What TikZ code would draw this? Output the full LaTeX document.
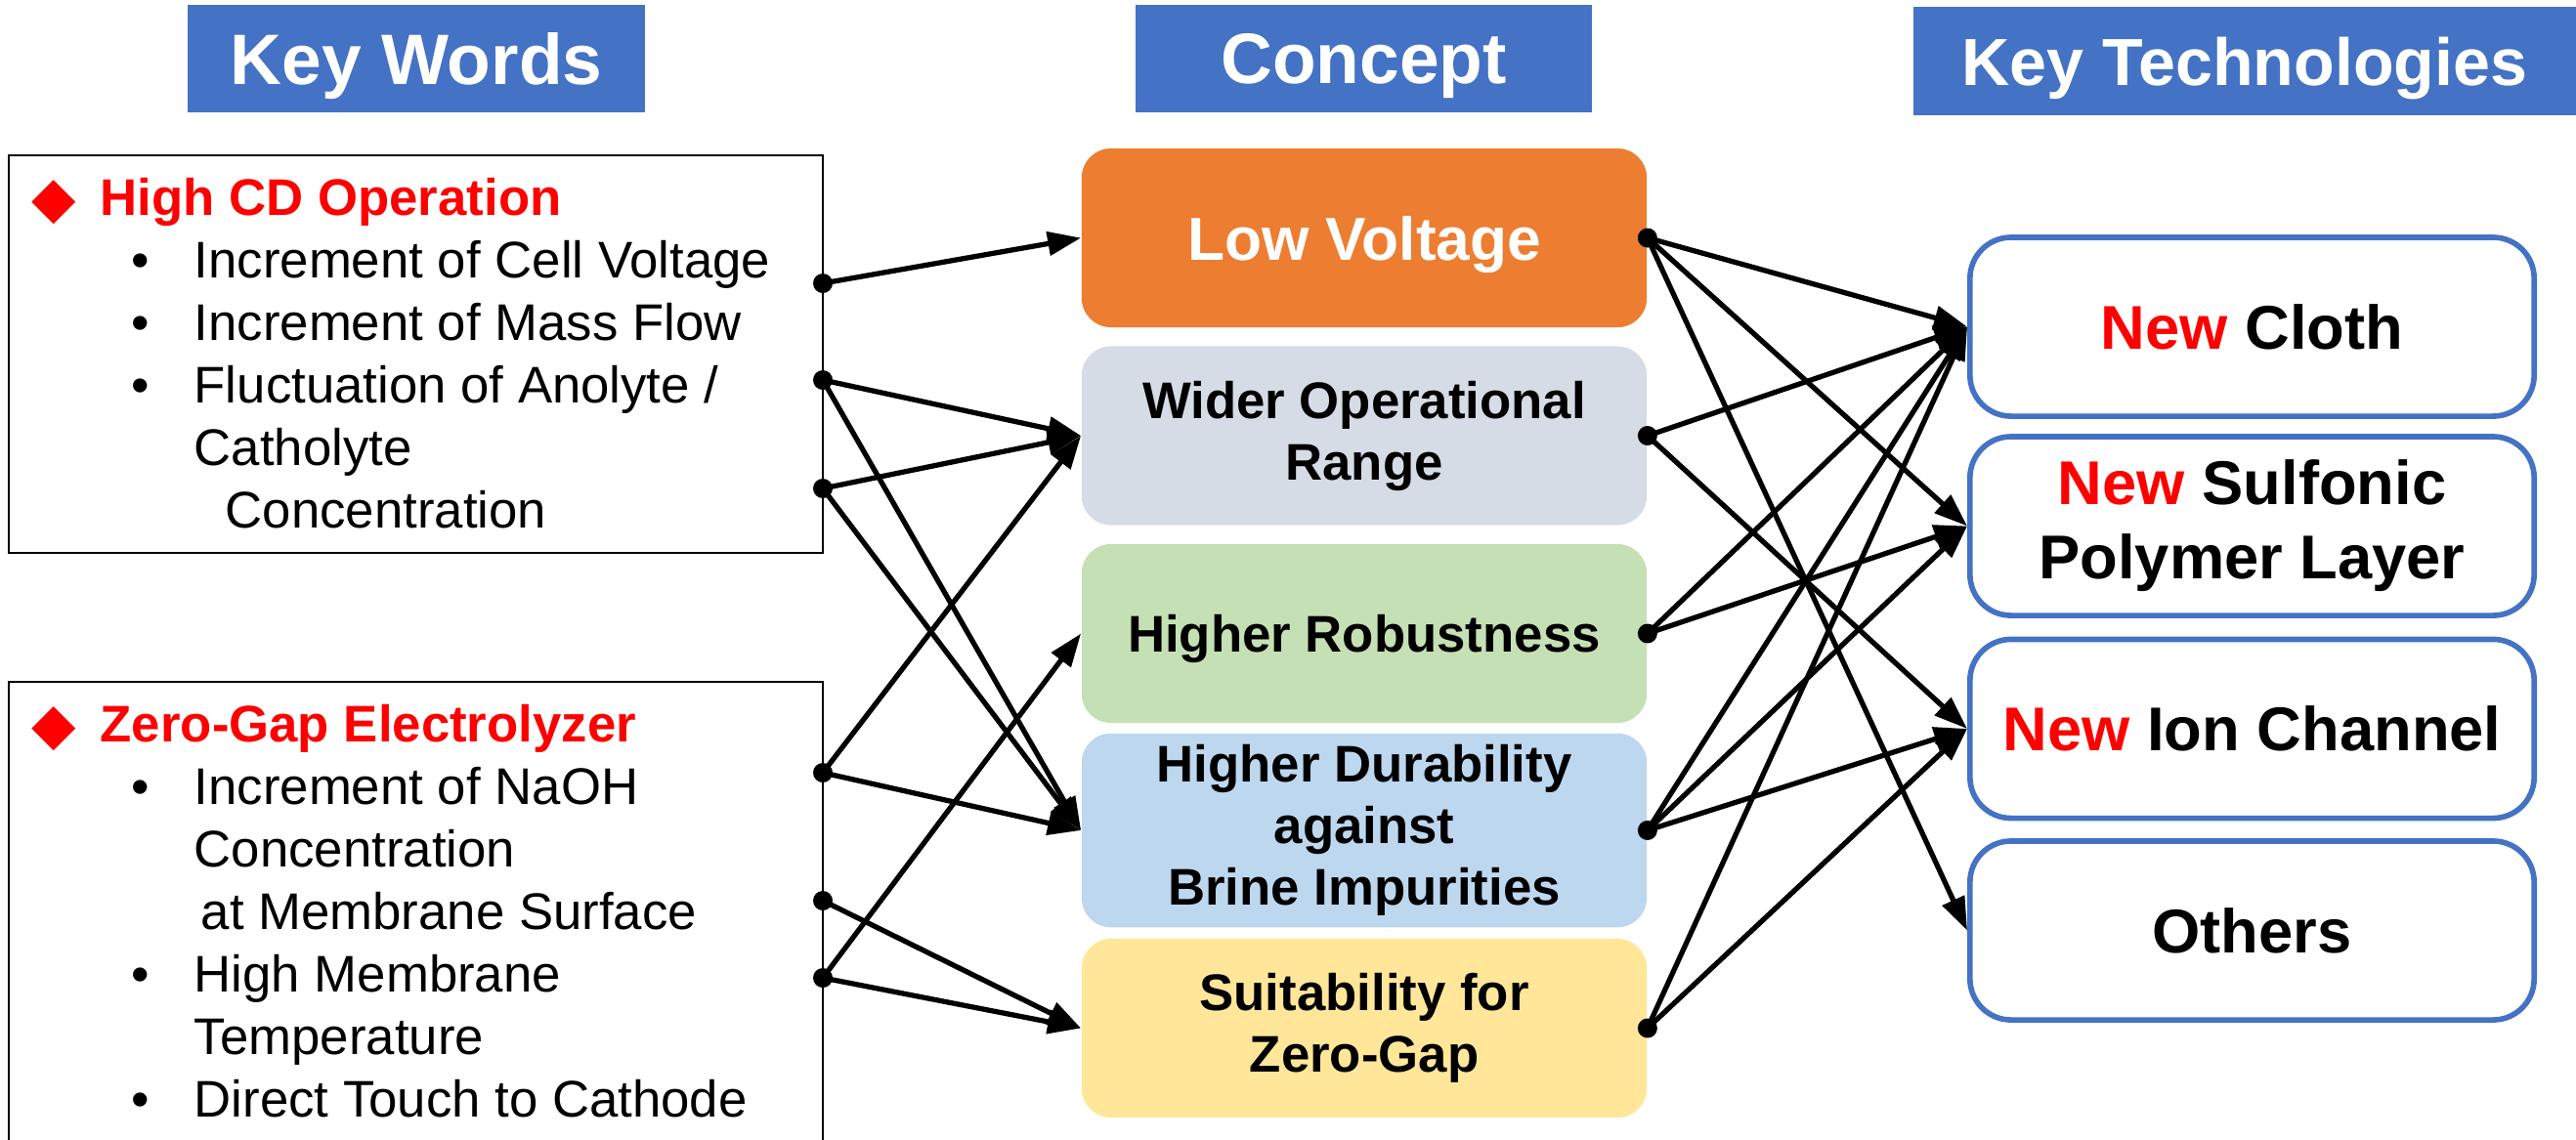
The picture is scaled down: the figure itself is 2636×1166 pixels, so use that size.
\documentclass[tikz,border=0pt]{standalone}
\usepackage{fontspec}
\setmainfont{Liberation Sans}
\newfontfamily\symfont{DejaVu Sans}
\usetikzlibrary{arrows.meta}
\definecolor{hdblue}{HTML}{4472C4}
\definecolor{lvorange}{HTML}{ED7D31}
\definecolor{wogrey}{HTML}{D6DCE5}
\definecolor{hrgreen}{HTML}{C5E0B4}
\definecolor{dulblue}{HTML}{BDD7EE}
\definecolor{zgyellow}{HTML}{FFE699}
\newcommand{\kwdiam}{\makebox[0.70cm][l]{\raisebox{-0.02cm}{\scalebox{1.12}{\textcolor{red}{\symfont ◆}}}}}
\newcommand{\kwitem}{\hspace*{1.02cm}\makebox[0.64cm][l]{\textbullet}}
\newcommand{\newword}{\textcolor{red}{New}}

\begin{document}
\begin{tikzpicture}[
	x=0.01cm, y=-0.01cm,
	header/.style = {
		fill=hdblue, text=white,
		minimum width=4.68cm,
		minimum height=1.10cm,
		text depth=0pt,
		font=\bfseries\fontsize{20.8}{24}\selectfont,
	},
	kwbox/.style = {draw, line width=0.5pt, minimum width=8.33cm, inner sep=0pt},
	kwtext/.style = {anchor=base west, inner sep=0pt, font=\fontsize{15}{18.2}\selectfont},
	concept/.style = {
		rounded corners=0.3cm,
		minimum width=5.78cm,
		minimum height=1.83cm,
		align=center,
		font=\bfseries\fontsize{15}{17.9}\selectfont,
	},
	tech/.style = {
		draw=hdblue, line width=1.6pt,
		rounded corners=0.42cm,
		minimum width=5.77cm,
		minimum height=1.83cm,
		align=center,
		font=\bfseries\fontsize{18}{21.6}\selectfont,
	},
	link/.style = {line width=1.5pt, -{Triangle[length=0.34cm,width=0.24cm]}},
]
\useasboundingbox (0,0) rectangle (2636,1166);
\clip (0,0) rectangle (2636,1166);

% Headers
\node [header] (kw) at (426,60) {Key Words};
\node [header, minimum width=4.67cm] (cpt) at (1395.5,60) {Concept};
\node [header, minimum width=6.78cm, font=\bfseries\fontsize{19.4}{23}\selectfont] (kt) at (2297,62.5) {Key Technologies};

% Key word boxes
\node [kwbox, minimum height=4.07cm] (hcd) at (425.5,362.5) {};
\node [kwtext] (hcdtxt) at (32,220) {\parbox[t]{8cm}{\raggedright
	\kwdiam\textcolor{red}{\bfseries High CD Operation}\\
	\kwitem Increment of Cell Voltage\\
	\kwitem Increment of Mass Flow\\
	\kwitem Fluctuation of Anolyte /\\
	\hspace*{1.66cm}Catholyte\\
	\hspace*{1.98cm}Concentration}};

\node [kwbox, minimum height=5.02cm] (zga) at (425.5,949) {};
\node [kwtext] (zgatxt) at (32,759) {\parbox[t]{8cm}{\raggedright
	\kwdiam\textcolor{red}{\bfseries Zero-Gap Electrolyzer}\\
	\kwitem Increment of NaOH\\
	\hspace*{1.66cm}Concentration\\
	\hspace*{1.73cm}at Membrane Surface\\
	\kwitem High Membrane\\
	\hspace*{1.66cm}Temperature\\
	\kwitem Direct Touch to Cathode}};

% Concept boxes
\node [concept, fill=lvorange, text=white, text depth=0pt, font=\bfseries\fontsize{17.7}{21}\selectfont] (lv) at (1396,243.5) {Low Voltage};
\node [concept, fill=wogrey] (wor) at (1396,446) {Wider Operational\\Range};
\node [concept, fill=hrgreen, text depth=0pt] (hrb) at (1396,648.5) {Higher Robustness};
\node [concept, fill=dulblue] (hdb) at (1396,850) {Higher Durability\\against\\Brine Impurities};
\node [concept, fill=zgyellow] (szg) at (1396,1052.5) {Suitability for\\Zero-Gap};

% Technology boxes
\node [tech] (cloth) at (2304.5,334.5) {\newword{} Cloth};
\node [tech] (sulf) at (2304.5,538.5) {\newword{} Sulfonic\\Polymer Layer};
\node [tech] (ion) at (2304.5,746) {\newword{} Ion Channel};
\node [tech] (oth) at (2304.5,952.5) {Others};

% Start points on key word boxes
\coordinate (k1) at (842,290);
\coordinate (k2) at (842,389);
\coordinate (k3) at (842,500);
\coordinate (k4) at (842,791);
\coordinate (k5) at (842,922);
\coordinate (k6) at (842,1001);

% Key words -> concept
\foreach \a/\b in {k1/lv, k2/wor, k2/hdb, k3/wor, k3/hdb, k4/wor, k4/hdb, k5/szg, k6/szg, k6/hrb}
	\draw [link] (\a) -- (\b.west);
\foreach \a in {k1,k2,k3,k4,k5,k6}
	\fill (\a) circle [radius=0.1cm];

% Concept -> key technologies
\foreach \a/\b in {lv/cloth, lv/sulf, lv/oth, wor/cloth, wor/ion, hrb/cloth, hrb/sulf, hdb/cloth, hdb/sulf, hdb/ion, szg/cloth, szg/ion}
	\draw [link] (\a.east) -- (\b.west);
\foreach \a in {lv,wor,hrb,hdb,szg}
	\fill (\a.east) circle [radius=0.1cm];

\end{tikzpicture}
\end{document}
